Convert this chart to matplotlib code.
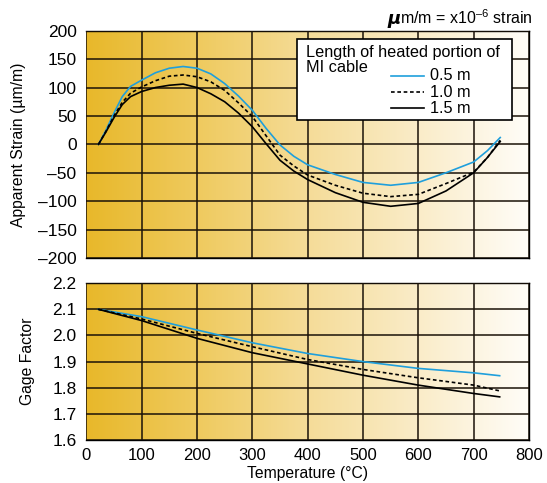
import numpy as np
import matplotlib.pyplot as plt
from matplotlib.colors import LinearSegmentedColormap
from matplotlib.lines import Line2D
from matplotlib.patches import Rectangle

plt.rcParams['font.family'] = ['Liberation Sans', 'DejaVu Sans']
plt.rcParams['mathtext.fontset'] = 'custom'
plt.rcParams['mathtext.rm'] = 'Liberation Sans'

# apparent strain (um/m) vs temperature (C)
temp = [22, 35, 50, 65, 80, 100, 125, 150, 175, 200, 225, 250, 275, 300, 325, 350,
        375, 400, 450, 500, 550, 600, 650, 700, 725, 748]
strain_05 = [0, 24, 55, 84, 102, 113, 126, 134, 137, 134, 124, 107, 85, 60, 28, -1,
             -21, -36, -53, -67, -72, -67, -50, -31, -11, 12]
strain_10 = [0, 22, 50, 74, 90, 101, 112, 120, 122, 119, 110, 95, 73, 49, 15, -19,
             -38, -54, -72, -86, -92, -88, -69, -49, -23, 7]
strain_15 = [0, 21, 47, 70, 84, 93, 100, 104, 106, 100, 89, 75, 55, 31, 1, -28,
             -47, -62, -85, -102, -109, -104, -82, -50, -23, 5]

# gage factor vs temperature
gf_temp = [22, 100, 200, 300, 400, 500, 600, 700, 747]
gf_05 = [2.10, 2.072, 2.021, 1.972, 1.931, 1.900, 1.874, 1.857, 1.846]
gf_10 = [2.10, 2.063, 2.008, 1.957, 1.908, 1.870, 1.838, 1.810, 1.788]
gf_15 = [2.10, 2.057, 1.989, 1.934, 1.891, 1.848, 1.810, 1.778, 1.765]

labels = ['0.5 m', '1.0 m', '1.5 m']
blue = '#1f9fdc'
dash = (2.2, 1.6)

grad = LinearSegmentedColormap.from_list(
    'gold', ['#e8b82a', '#efca5e', '#f5dc98', '#faecc8', '#fffdf8'])


def shade(ax, ylo, yhi):
    g = np.linspace(0, 1, 256).reshape(1, -1)
    ax.imshow(g, cmap=grad, aspect='auto', extent=[0, 800, ylo, yhi], zorder=0)
    ax.set_xlim(0, 800)
    ax.set_ylim(ylo, yhi)
    ax.grid(True, color='#1a1208', linewidth=1.1, zorder=1)
    ax.set_axisbelow(False)
    ax.tick_params(length=0, labelsize=12.5, pad=7)
    ax.tick_params(axis='x', labelsize=12, pad=6)
    for s in ax.spines.values():
        s.set_linewidth(1.0)
        s.set_color('black')
    ax.spines['left'].set_visible(False)


fw, fh = 547, 483
fig = plt.figure(figsize=(5.47, 4.83), dpi=100)
ax1 = fig.add_axes([86.3 / fw, 1 - 258 / fh, 442.7 / fw, 227.3 / fh])
ax2 = fig.add_axes([86.3 / fw, 1 - 440 / fh, 442.7 / fw, 156.8 / fh])

shade(ax1, -200, 200)
ax1.set_xticks(range(0, 801, 100))
ax1.set_yticks(range(-200, 201, 50))
ax1.set_yticklabels(['\u2013' + str(-v) if v < 0 else str(v) for v in range(-200, 201, 50)])
ax1.tick_params(labelbottom=False)
ax1.plot(temp, strain_05, color=blue, lw=1.2, zorder=3)
ax1.plot(temp, strain_10, color='black', lw=1.2, dashes=dash, zorder=3)
ax1.plot(temp, strain_15, color='black', lw=1.2, zorder=3)
ax1.set_ylabel('Apparent Strain (\u00b5m/m)', fontsize=11.3)

shade(ax2, 1.6, 2.2)
ax2.set_xticks(range(0, 801, 100))
ax2.set_yticks(np.arange(1.6, 2.21, 0.1))
ax2.set_yticklabels(['%.1f' % v for v in np.arange(1.6, 2.21, 0.1)])
ax2.plot(gf_temp, gf_05, color=blue, lw=1.2, zorder=3)
ax2.plot(gf_temp, gf_10, color='black', lw=1.2, dashes=dash, zorder=3)
ax2.plot(gf_temp, gf_15, color='black', lw=1.2, zorder=3)
ax2.set_ylabel('Gage Factor', fontsize=11.3)
ax2.set_xlabel('Temperature (\u00b0C)', fontsize=11.3, labelpad=2)
ax1.yaxis.set_label_coords(-60.3 / 442.7, 0.5)
ax2.yaxis.set_label_coords(-51.3 / 442.7, 0.5)

# units note
note = fig.text(533 / fw, 1 - 17.5 / fh, 'm/m = x10$^{\u2013\\mathregular{6}}$ strain',
                ha='right', va='center', fontsize=11.5)
plt.annotate('\u03bc', xy=(0, 0.42), xycoords=note, ha='right', va='center',
             fontsize=13, fontweight='bold', fontstyle='italic',
             family=['DejaVu Sans'], annotation_clip=False)

# legend box
box = Rectangle((297 / fw, 1 - 120 / fh), 215 / fw, 81 / fh, transform=fig.transFigure,
                facecolor='white', edgecolor='black', lw=1.2, zorder=10)
fig.patches.append(box)
fig.text(306 / fw, 1 - 53 / fh, 'Length of heated portion of', ha='left', va='center',
         fontsize=11.7, zorder=11)
fig.text(306 / fw, 1 - 68 / fh, 'MI cable', ha='left', va='center',
         fontsize=11.7, zorder=11)
styles = [dict(color=blue), dict(color='black', dashes=dash), dict(color='black')]
for i, (lab, st) in enumerate(zip(labels, styles)):
    yy = 1 - (76 + i * 16.2) / fh
    fig.lines.append(Line2D([391 / fw, 424 / fw], [yy, yy], transform=fig.transFigure,
                            lw=1.2, zorder=11, **st))
    fig.text(430 / fw, yy, lab, ha='left', va='center', fontsize=11.7, zorder=11)

fig.savefig('out.png', dpi=100)
